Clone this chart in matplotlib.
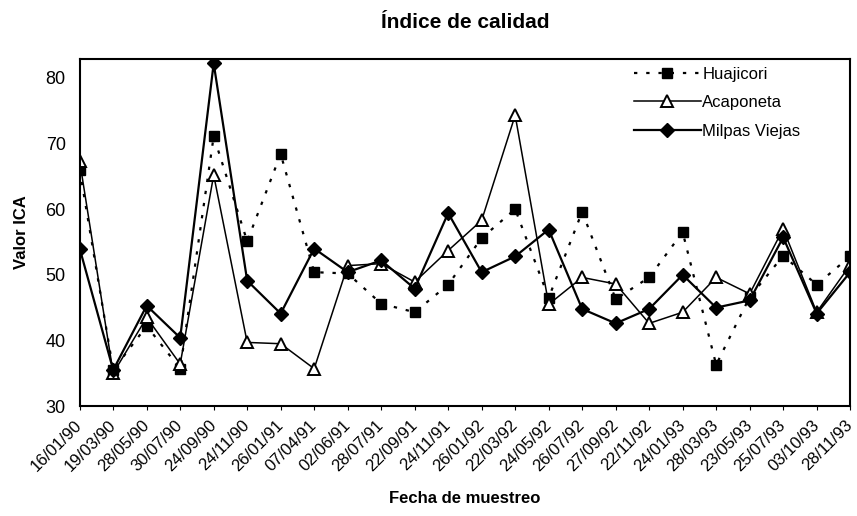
import matplotlib
matplotlib.use("Agg")
from matplotlib import pyplot as plt
import numpy as np

fechas = ["16/01/90", "19/03/90", "28/05/90", "30/07/90", "24/09/90", "24/11/90",
          "26/01/91", "07/04/91", "02/06/91", "28/07/91", "22/09/91", "24/11/91",
          "26/01/92", "22/03/92", "24/05/92", "26/07/92", "27/09/92", "22/11/92",
          "24/01/93", "28/03/93", "23/05/93", "25/07/93", "03/10/93", "28/11/93"]

huajicori = [66.0, 35.5, 42.2, 35.7, 71.1, 55.1, 68.4, 50.4, 50.2, 45.6, 44.3, 48.5,
             55.6, 60.0, 46.5, 59.6, 46.3, 49.6, 56.5, 36.3, 46.6, 52.9, 48.5, 52.8]
acaponeta = [67.3, 35.0, 43.5, 36.4, 65.2, 39.7, 39.5, 35.7, 51.4, 51.7, 48.9, 53.7,
             58.3, 74.3, 45.5, 49.6, 48.6, 42.6, 44.3, 49.6, 47.1, 57.0, 44.3, 51.5]
milpas_viejas = [54.0, 35.5, 45.3, 40.4, 82.2, 49.1, 44.1, 54.0, 50.4, 52.2, 47.9, 59.4,
                 50.4, 52.8, 56.9, 44.8, 42.6, 44.8, 50.0, 45.0, 46.1, 55.7, 44.1, 50.4]

plt.rcParams['font.family'] = ['Liberation Sans', 'DejaVu Sans']

fig = plt.figure(figsize=(8.57, 5.16), dpi=100)
ax = fig.add_axes([0.093, 0.213, 0.899, 0.673])

x = np.arange(len(fechas))
ax.plot(x, huajicori, color='black', linestyle=(0, (1.5, 4)), linewidth=1.6,
        marker='s', markersize=6.5, markerfacecolor='black', label='Huajicori')
ax.plot(x, acaponeta, color='black', linestyle='-', linewidth=1.1,
        marker='^', markersize=9, markerfacecolor='white', markeredgewidth=1.4,
        label='Acaponeta')
ax.plot(x, milpas_viejas, color='black', linestyle='-', linewidth=1.6,
        marker='D', markersize=7, markerfacecolor='black', label='Milpas Viejas')

ax.set_xlim(0, len(fechas) - 1)
ax.set_ylim(30, 82.9)
ax.set_yticks([30, 40, 50, 60, 70, 80])
ax.set_xticks(x)
ax.set_xticklabels(fechas, rotation=45, ha='right', va='center',
                   rotation_mode='anchor', fontsize=12)
ax.tick_params(axis='y', labelsize=13, length=0, pad=10)
ax.tick_params(axis='x', length=3, pad=9)

for s in ax.spines.values():
    s.set_linewidth(1.5)

ax.set_title("Índice de calidad", fontsize=15, fontweight='bold', pad=22)
ax.set_ylabel("Valor ICA", fontsize=12, fontweight='bold', labelpad=12)
ax.set_xlabel("Fecha de muestreo", fontsize=12, fontweight='bold', labelpad=12)

ax.legend(loc='upper right', bbox_to_anchor=(0.955, 1.02), frameon=False, fontsize=12,
          handlelength=4.0, handletextpad=0.1, labelspacing=0.8)

fig.savefig("out.png", dpi=100)
